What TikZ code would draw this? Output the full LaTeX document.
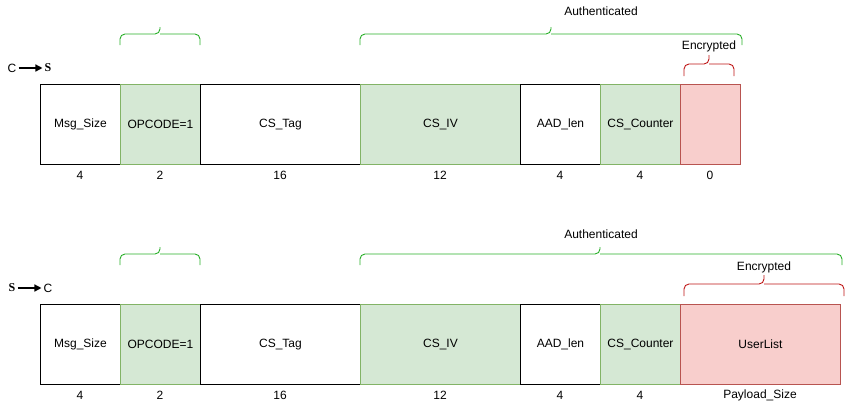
\documentclass[tikz,border=0pt]{standalone}
\usepackage{fontspec}
\setmainfont{Liberation Sans}
\newfontfamily\tnrfont{Liberation Serif}
\usetikzlibrary{arrows.meta}
\definecolor{gfill}{HTML}{D5E8D4}
\definecolor{gline}{HTML}{82B366}
\definecolor{rfill}{HTML}{F8CECC}
\definecolor{rline}{HTML}{B85450}
\definecolor{gbrace}{RGB}{40,175,40}
\definecolor{rbrace}{RGB}{190,20,20}
\begin{document}
\begin{tikzpicture}[x=1pt,y=-1pt,
  every node/.style={font=\fontsize{12}{14}\selectfont, inner sep=0pt},
  field/.style={draw=black, line width=0.9pt, minimum height=80pt, anchor=north west, fill=white},
  gfield/.style={field, draw=gline, fill=gfill},
  rfield/.style={field, draw=rline, fill=rfill},
  sizelbl/.style={anchor=center, font=\fontsize{12}{14}\selectfont},
  gbr/.style={draw=gbrace, line width=0.9pt, rounded corners=5pt},
  rbr/.style={draw=rbrace, line width=0.9pt, rounded corners=5pt},
  dirarrow/.style={line width=1.4pt, -{Triangle[length=7pt,width=7pt]}}
]
\useasboundingbox (0,0) rectangle (845,405);

% ---------------- top row -----------------
\node[field, minimum width=80pt]  (t1) at (40,84)  {Msg\_Size};
\node[gfield, minimum width=80pt] (t2) at (120,84) {OPCODE=1};
\node[field, minimum width=160pt] (t3) at (200,84) {CS\_Tag};
\node[gfield, minimum width=160pt](t4) at (360,84) {CS\_IV};
\node[field, minimum width=80pt]  (t5) at (520,84) {AAD\_len};
\node[gfield, minimum width=80pt] (t6) at (600,84) {CS\_Counter};
\node[rfield, minimum width=60pt] (t7) at (680,84) {};

\node[sizelbl] (tn1) at (80,175)  {4};
\node[sizelbl] (tn2) at (160,175) {2};
\node[sizelbl] (tn3) at (280,175) {16};
\node[sizelbl] (tn4) at (440,175) {12};
\node[sizelbl] (tn5) at (560,175) {4};
\node[sizelbl] (tn6) at (640,175) {4};
\node[sizelbl] (tn7) at (710,175) {0};

% braces top
\draw[gbr] (120,45) |- (160,34) -- (160,27);
\draw[gbr] (200,45) |- (160,34);
\draw[gbr] (360,45) |- (551,34) -- (551,27);
\draw[gbr] (742,45) |- (551,34);
\draw[rbr] (684,76) |- (709,64) -- (709,55);
\draw[rbr] (734,76) |- (709,64);
\node (tauth) at (601,11) {Authenticated};
\node (tenc) at (709,46) {Encrypted};

% direction
\node (tc) at (12,68) {C};
\node (ts) at (48,68) {\tnrfont\bfseries S};
\draw[dirarrow] (tc.east)++(2,0) -- ([xshift=-2pt]ts.west);

% ---------------- bottom row -----------------
\node[field, minimum width=80pt]  (b1) at (40,304)  {Msg\_Size};
\node[gfield, minimum width=80pt] (b2) at (120,304) {OPCODE=1};
\node[field, minimum width=160pt] (b3) at (200,304) {CS\_Tag};
\node[gfield, minimum width=160pt](b4) at (360,304) {CS\_IV};
\node[field, minimum width=80pt]  (b5) at (520,304) {AAD\_len};
\node[gfield, minimum width=80pt] (b6) at (600,304) {CS\_Counter};
\node[rfield, minimum width=160pt](b7) at (680,304) {UserList};

\node[sizelbl] (bn1) at (80,395)  {4};
\node[sizelbl] (bn2) at (160,395) {2};
\node[sizelbl] (bn3) at (280,395) {16};
\node[sizelbl] (bn4) at (440,395) {12};
\node[sizelbl] (bn5) at (560,395) {4};
\node[sizelbl] (bn6) at (640,395) {4};
\node[sizelbl] (bn7) at (760,395) {Payload\_Size};

% braces bottom
\draw[gbr] (120,265) |- (160,254) -- (160,247);
\draw[gbr] (200,265) |- (160,254);
\draw[gbr] (360,265) |- (600,254) -- (600,247);
\draw[gbr] (842,265) |- (600,254);
\draw[rbr] (684,296) |- (764,284) -- (764,275);
\draw[rbr] (844,296) |- (764,284);
\node (bauth) at (601,234) {Authenticated};
\node (benc) at (764,267) {Encrypted};

% direction
\node (bs) at (12,288) {\tnrfont\bfseries S};
\node (bc) at (48,288) {C};
\draw[dirarrow] ([xshift=2pt]bs.east) -- ([xshift=-2pt]bc.west);
\end{tikzpicture}
\end{document}
